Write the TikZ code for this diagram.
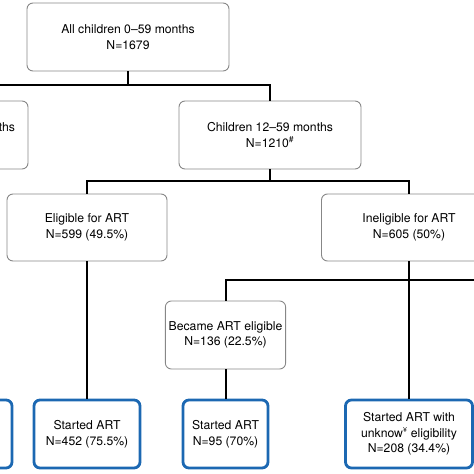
\documentclass[tikz,border=0pt]{standalone}
\usepackage{fontspec}
\setmainfont{TeX Gyre Heros}
\usepackage{tikz}
\usetikzlibrary{positioning}
\definecolor{boxgrey}{RGB}{135,135,135}
\definecolor{startblue}{RGB}{28,104,178}

\begin{document}
\begin{tikzpicture}[x=1pt, y=-1pt,
    every node/.style={font=\fontsize{12.2}{15.5}\selectfont, align=center},
    greybox/.style={draw=boxgrey, line width=0.9pt, rounded corners=6pt, minimum height=68pt},
    startbox/.style={draw=startblue, line width=2.8pt, rounded corners=6pt, minimum height=68pt},
    link/.style={line width=2pt, black}]
    \clip (0,0) rectangle (474,474);

    % top levels
    \node[greybox, minimum width=202pt] (all) at (128, 37) {All children 0--59 months\\N=1679};
    \node[greybox, minimum width=128pt, text width=102pt, inner sep=13pt, align=right] (young) at (-36, 135) {ths\\~};
    \node[greybox, minimum width=182pt] (older) at (270, 135) {Children 12--59 months\\N=1210\textsuperscript{\#}};

    \node[greybox, minimum width=160pt, minimum height=67pt] (elig) at (87, 227.5) {Eligible for ART\\N=599 (49.5\%)};
    \node[greybox, minimum width=175pt, minimum height=67pt] (inelig) at (409, 227.5) {Ineligible for ART\\N=605 (50\%)};
    \node[greybox, minimum width=113pt] (became) at (225.5, 335) {Became ART eligible\\N=136 (22.5\%)};

    % started ART
    \node[startbox, minimum width=92pt] (startY) at (-34, 434) {};
    \node[startbox, minimum width=106pt] (startE) at (87, 434) {Started ART\\N=452 (75.5\%)};
    \node[startbox, minimum width=85pt] (startB) at (225.5, 434) {Started ART\\N=95 (70\%)};
    \node[startbox, minimum width=127pt] (startU) at (409, 434) {Started ART with\\unknow\textsuperscript{\scriptsize ¥} eligibility\\N=208 (34.4\%)};

    \coordinate (j1) at (all.south |- 0,85);
    \coordinate (j2) at (older.south |- 0,181);
    \coordinate (j3) at (inelig.south |- 0,280);
    \coordinate (offR) at (495, 280);

    \draw[link] (all.south) -- (j1);
    \draw[link] (young.north) |- (j1) -| (older.north);
    \draw[link] (older.south) -- (j2);
    \draw[link] (elig.north) |- (j2) -| (inelig.north);
    \draw[link] (elig.south) -- (startE.north);
    \draw[link] (inelig.south) -- (startU.north);
    \draw[link] (became.north) |- (j3) -- (offR);
    \draw[link] (became.south) -- (startB.north);
\end{tikzpicture}
\end{document}
